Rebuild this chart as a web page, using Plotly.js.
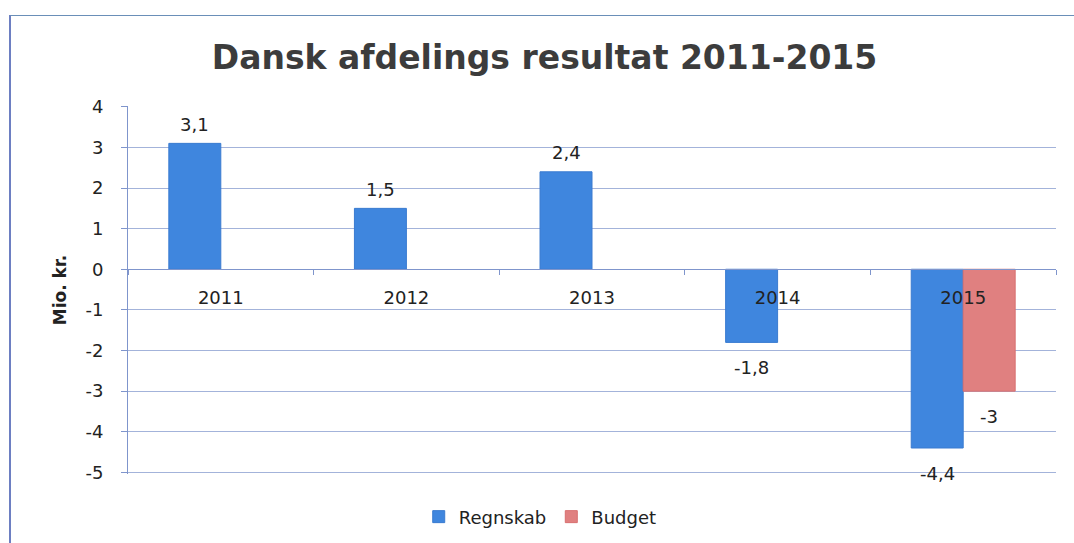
<!DOCTYPE html>
<html>
<head>
<meta charset="utf-8">
<script src="https://cdn.plot.ly/plotly-3.0.1.min.js"></script>
<style>
html,body{margin:0;padding:0;background:#fff;}
#chart{width:1074px;height:543px;position:absolute;left:0;top:0;}
#frame{position:absolute;left:9px;top:15px;width:1100px;height:600px;border-left:2px solid #6d7fc2;border-top:1px solid #6a8fb8;pointer-events:none;}
</style>
</head>
<body>
<div id="chart"></div>
<div id="frame"></div>
<script>
const years = ['2011', '2012', '2013', '2014', '2015'];
const regnskab = [3.1, 1.5, 2.4, -1.8, -4.4];
const budget = [null, null, null, null, -3];
const yTicks = [4, 3, 2, 1, 0, -1, -2, -3, -4, -5];

const FONT = 'DejaVu Sans, sans-serif';
const BARGAP = 0.44;
const fmt = v => (v === null ? '' : String(v).replace('.', ','));

const traces = [
  {type: 'bar', name: 'Regnskab', x: years, y: regnskab,
   marker: {color: '#3f86de', line: {color: '#3a7bd0', width: 1}}},
  {type: 'bar', name: 'Budget', x: years, y: budget,
   marker: {color: '#e08080', line: {color: '#d87070', width: 1}}}
];

// value labels, placed from the data via the axes
const half = (1 - BARGAP) / 4;
const annotations = [];
[regnskab, budget].forEach((series, s) => {
  series.forEach((v, i) => {
    if (v === null) return;
    annotations.push({
      x: i + (s === 0 ? -half : half), y: v, xref: 'x', yref: 'y',
      text: fmt(v), showarrow: false,
      yanchor: 'middle', yshift: v >= 0 ? 19 : -25,
      font: {family: FONT, size: 18, color: '#222'}
    });
  });
});

const layout = {
  width: 1074, height: 543,
  margin: {l: 128, r: 18, t: 106, b: 69},
  paper_bgcolor: '#ffffff', plot_bgcolor: '#ffffff',
  title: {text: '<b>Dansk afdelings resultat 2011-2015</b>', x: 0.507, xanchor: 'center',
          y: 0.895, yanchor: 'middle',
          font: {family: FONT, size: 33, color: '#3c3c3c'}},
  barmode: 'group', bargap: BARGAP, bargroupgap: 0,
  showlegend: true,
  legend: {orientation: 'h', x: 0.503, xanchor: 'center', xref: 'container',
           y: 0.048, yanchor: 'middle', yref: 'container',
           font: {family: FONT, size: 18, color: '#222'}, itemwidth: 30},
  annotations: annotations,
  xaxis: {type: 'category', anchor: 'free', position: 5.04 / 9.06, automargin: false,
          showgrid: false, showline: true, linecolor: '#7f95cc', linewidth: 1,
          ticks: 'outside', tickson: 'boundaries', ticklen: 5, tickcolor: '#7f95cc',
          ticklabelstandoff: 12,
          tickfont: {family: FONT, size: 18, color: '#222'}},
  yaxis: {range: [-5.04, 4.02], tickvals: yTicks, ticktext: yTicks.map(fmt), automargin: false,
          showgrid: true, gridcolor: '#a3b3da', gridwidth: 1,
          zeroline: false, showline: true, linecolor: '#7f95cc', linewidth: 1,
          ticks: 'outside', ticklen: 6, tickcolor: '#7f95cc', ticklabelstandoff: 14,
          tickfont: {family: FONT, size: 18, color: '#222'},
          title: {text: '<b>Mio. kr.</b>', standoff: 14, font: {family: FONT, size: 17, color: '#222'}}}
};

Plotly.newPlot('chart', traces, layout, {displayModeBar: false, staticPlot: true});
</script>
</body>
</html>
